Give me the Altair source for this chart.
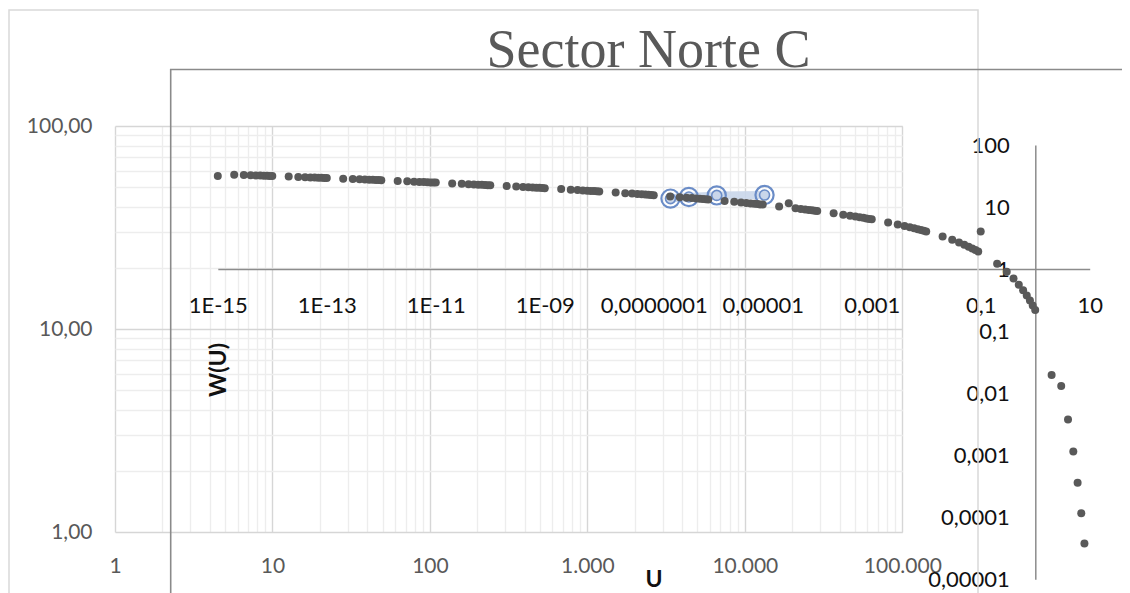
import altair as alt
import pandas as pd

FONT = "Lato"

# ---------------- front chart: W(u) versus u ----------------
multipliers = [1, 2, 3, 4, 5, 6, 7, 8, 9]
exponents = [-15, -14, -13, -12, -11, -10, -9, -8, -7, -6, -5, -4, -3, -2, -1]
w_e15 = [31.66, 33.27, 32.86, 32.58, 32.35, 32.17, 32.02, 31.88, 31.76]
w_e14 = [31.66, 30.97, 30.56, 30.27, 30.05, 29.87, 29.71, 29.58, 29.46]
w_e13 = [29.36, 28.66, 28.26, 27.97, 27.75, 27.56, 27.41, 27.28, 27.16]
w_e12 = [27.05, 26.36, 25.96, 25.67, 25.44, 25.26, 25.11, 24.97, 24.86]
w_e11 = [24.75, 24.06, 23.65, 23.36, 23.14, 22.96, 22.81, 22.67, 22.55]
w_e10 = [22.45, 21.76, 21.35, 21.06, 20.84, 20.66, 20.50, 20.37, 20.25]
w_e9 = [20.15, 19.45, 19.05, 18.76, 18.54, 18.35, 18.20, 18.07, 17.95]
w_e8 = [17.84, 17.15, 16.74, 16.46, 16.23, 16.05, 15.90, 15.76, 15.65]
w_e7 = [15.54, 14.85, 14.44, 14.15, 13.93, 13.75, 13.60, 13.46, 13.34]
w_e6 = [13.24, 12.55, 12.14, 11.85, 11.63, 11.45, 11.29, 11.16, 11.04]
w_e5 = [10.94, 10.24, 11.50, 9.55, 9.33, 9.14, 8.99, 8.86, 8.74]
w_e4 = [8.63, 7.94, 7.53, 7.25, 7.02, 6.84, 6.69, 6.55, 6.44]
w_e3 = [6.33, 5.64, 5.23, 4.95, 4.73, 4.54, 4.39, 4.26, 4.14]
w_e2 = [4.04, 3.35, 2.96, 2.68, 2.47, 2.30, 2.15, 2.03, 1.92]
w_e1 = [4.04, 1.22, 0.906, 0.702, 0.560, 0.454, 0.374, 0.311, 0.260]
u_units = [1, 2, 3, 4, 5, 6, 7, 8]
w_units = [0.219, 0.0196, 0.0131, 0.00378, 0.00115, 0.00036, 0.000116, 0.0000377]

w_lists = [w_e15, w_e14, w_e13, w_e12, w_e11, w_e10, w_e9, w_e8, w_e7,
           w_e6, w_e5, w_e4, w_e3, w_e2, w_e1]

rows = []
for e, ws in zip(exponents, w_lists):
    for m, w in zip(multipliers, ws):
        rows.append({"u": float(f"{m}e{e}"), "w": w})
for u, w in zip(u_units, w_units):
    rows.append({"u": float(u), "w": w})
front_df = pd.DataFrame(rows)

# ---------------- back chart: observed points ----------------
u_obs = [3370, 4410, 6630, 13340]
w_obs = [43.9, 44.7, 45.5, 45.7]
obs_df = pd.DataFrame({"u": u_obs, "w": w_obs})

# ---------------- axis ticks / labels ----------------
chart_title = "Sector Norte C"
bx_major = [1, 10, 100, 1000, 10000, 100000]
bx_major_labels = ["1", "10", "100", "1.000", "10.000", "100.000"]
by_major = [1, 10, 100]
by_major_labels = ["1,00", "10,00", "100,00"]
fx_exps = [-15, -13, -11, -9, -7, -5, -3, -1, 1]
fx_labels = ["1E-15", "1E-13", "1E-11", "1E-09", "0,0000001", "0,00001", "0,001", "0,1", "10"]
fy_exps = [-5, -4, -3, -2, -1, 0, 1, 2]
fy_labels = ["0,00001", "0,0001", "0,001", "0,01", "0,1", "1", "10", "100"]

bx_vals = [m * d for d in [1, 10, 100, 1000, 10000] for m in multipliers] + [100000]
by_vals = [m * d for d in [1, 10] for m in multipliers] + [100]
fx_vals = [float(f"1e{e}") for e in fx_exps]
fy_vals = [float(f"1e{e}") for e in fy_exps]


def value_label_expr(vals, labels):
    expr = "''"
    for v, lab in reversed(list(zip(vals, labels))):
        expr = f"datum.value == {v} ? '{lab}' : ({expr})"
    return expr


def exp_label_expr(exps, labels):
    expr = "''"
    for e, lab in reversed(list(zip(exps, labels))):
        expr = f"round(log(datum.value)/LN10) == {e} ? '{lab}' : ({expr})"
    return expr


def major_test(vals):
    return " || ".join(f"datum.value == {v}" for v in vals)


W, H = 1114, 585  # view covers the page area; pixel coordinates = image coordinates - 8

back_x = alt.X(
    "u:Q",
    scale=alt.Scale(type="log", domain=[1, 100000], range=[107, 894.3], nice=False),
    axis=alt.Axis(
        orient="top", offset=-524, values=bx_vals,
        labelExpr=value_label_expr(bx_major, bx_major_labels),
        grid=True,
        gridColor=alt.condition(major_test(bx_major), alt.value("#d6d6d6"), alt.value("#ededed")),
        gridWidth=1.4, domain=False, ticks=False, tickSize=0,
        labelPadding=-40, labelBaseline="alphabetic", labelFont=FONT, labelFontSize=21,
        labelColor="#595959", labelFlush=False, labelOverlap=False, title=None,
    ),
)
back_y = alt.Y(
    "w:Q",
    scale=alt.Scale(type="log", domain=[1, 100], range=[524, 118], nice=False),
    axis=alt.Axis(
        orient="left", offset=-107, values=by_vals,
        labelExpr=value_label_expr(by_major, by_major_labels),
        grid=True,
        gridColor=alt.condition(major_test(by_major), alt.value("#d6d6d6"), alt.value("#ededed")),
        gridWidth=1.4, domain=False, ticks=False, tickSize=0,
        labelPadding=23, labelFont=FONT, labelFontSize=21,
        labelColor="#595959", labelFlush=False, labelOverlap=False, title=None,
    ),
)

base_back = alt.Chart(obs_df).encode(x=back_x, y=back_y)
band = base_back.mark_line(color="#c9d6ea", strokeWidth=8, opacity=0.9)
ring = base_back.mark_point(shape="circle", size=330, filled=False, stroke="#6a8cc7",
                            strokeWidth=2.2, opacity=1)
inner = base_back.mark_point(shape="circle", size=100, filled=True, fill="#c9d6ea",
                             stroke="#6a8cc7", strokeWidth=1.6, opacity=1, fillOpacity=1)
back = alt.layer(band, ring, inner)

front_x = alt.X(
    "u:Q",
    scale=alt.Scale(type="log", domain=[1e-15, 10], range=[209.8, 1081.7], nice=False),
    axis=alt.Axis(
        orient="bottom", offset=261.1 - H, values=fx_vals,
        labelExpr=exp_label_expr(fx_exps, fx_labels),
        grid=False, domain=True, domainColor="#8c8c8c", domainWidth=1.5,
        ticks=False, tickSize=0, labelPadding=43, labelBaseline="alphabetic",
        labelFont=FONT, labelFontSize=22, labelColor="#111111",
        labelFlush=False, labelOverlap=False,
        title="U", titleX=645.5, titleY=317, titleAlign="center", titleBaseline="alphabetic",
        titleFont=FONT, titleFontSize=23, titleFontWeight="bold", titleColor="#111111",
    ),
)
front_y = alt.Y(
    "w:Q",
    scale=alt.Scale(type="log", domain=[1e-5, 100], range=[571.3, 137], nice=False),
    axis=alt.Axis(
        orient="left", offset=-1027.3, values=fy_vals,
        labelExpr=exp_label_expr(fy_exps, fy_labels),
        grid=False, domain=True, domainColor="#8c8c8c", domainWidth=1.5,
        ticks=False, tickSize=0, labelPadding=26,
        labelFont=FONT, labelFontSize=22, labelColor="#111111",
        labelFlush=False, labelOverlap=False,
        title="W(U)", titleX=-816.8, titleY=361.5, titleAngle=270, titleAlign="center",
        titleBaseline="middle", titleFont=FONT, titleFontSize=23, titleFontWeight="bold",
        titleColor="#111111",
    ),
)
front = alt.Chart(front_df).mark_circle(size=64, color="#595959", opacity=1).encode(
    x=front_x, y=front_y
)

# chart-area frames of the two overlaid charts, and the title text
frame_df = pd.DataFrame({"k": [0]})
back_frame = alt.Chart(frame_df).mark_rect(fillOpacity=0, stroke="#d9d9d9", strokeWidth=1.5).encode(
    x=alt.value(1), x2=alt.value(970), y=alt.value(2), y2=alt.value(640)
)
front_frame = alt.Chart(frame_df).mark_rect(fillOpacity=0, stroke="#8a8a8a", strokeWidth=1.6).encode(
    x=alt.value(162.7), x2=alt.value(1300), y=alt.value(61.5), y2=alt.value(640)
)
title_text = alt.Chart(frame_df).mark_text(
    text=chart_title, font="Liberation Serif", fontSize=54, color="#595959",
    align="center", baseline="alphabetic",
).encode(x=alt.value(640.5), y=alt.value(59))

chart = (
    alt.layer(back_frame, back, front_frame, title_text, front)
    .resolve_scale(x="independent", y="independent")
    .properties(
        width=W,
        height=H,
        padding=0,
        autosize=alt.AutoSizeParams(type="none"),
        background="white",
    )
    .configure_view(strokeWidth=0)
)

chart.save("out.html", embed_options={"renderer": "svg", "actions": False})
